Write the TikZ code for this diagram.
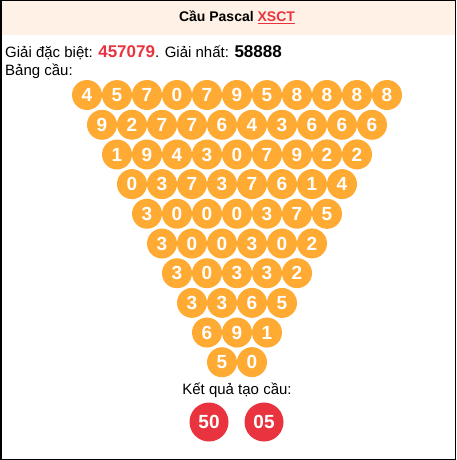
\documentclass[tikz,border=0pt]{standalone}
\usepackage{fontspec}
\setmainfont{Liberation Sans}
\usepackage{xcolor}
\usetikzlibrary{matrix}
\definecolor{ballorange}{HTML}{FFAA33}
\definecolor{ballred}{HTML}{E9333F}
\definecolor{headbg}{HTML}{FFF1E5}

\begin{document}
\begin{tikzpicture}[x=1pt,y=1pt,
ball/.style={circle, fill=ballorange, text=white, font=\bfseries\fontsize{19}{19}\selectfont, minimum size=30pt, inner sep=0pt},
array/.style={matrix of nodes, nodes={ball}, column sep=-15pt, row sep=-0.4pt, inner sep=0pt, outer sep=0pt},
result/.style={circle, fill=ballred, text=white, font=\bfseries\fontsize{19}{19}\selectfont, minimum size=39pt, inner sep=0pt},
label/.style={inner sep=0pt, font=\fontsize{15}{18}\selectfont}]
\useasboundingbox (0,0) rectangle (456,-460);
\fill[headbg] (0,0) rectangle (456,-35);
\draw[line width=1.5pt] (0.75,-0.75) rectangle (455.25,-459.25);
% header and prize line
\node[inner sep=0pt, font=\bfseries\fontsize{14}{16}\selectfont] (title) at (237,-17) {Cầu Pascal \textcolor{ballred}{\underline{XSCT}}};
\node[label, anchor=base west] (giai) at (5,-57) {Giải đặc biệt: {\color{ballred}\bfseries\fontsize{17}{18}\selectfont 457079}. Giải nhất: {\bfseries\fontsize{17}{18}\selectfont 58888}};
\node[label, anchor=base west] (bang) at (5,-75) {Bảng cầu:};
% pascal triangle
\matrix[array, anchor=north west] (cau) at (72,-80) {
4 & & 5 & & 7 & & 0 & & 7 & & 9 & & 5 & & 8 & & 8 & & 8 & & 8 \\
& 9 & & 2 & & 7 & & 7 & & 6 & & 4 & & 3 & & 6 & & 6 & & 6 \\
& & 1 & & 9 & & 4 & & 3 & & 0 & & 7 & & 9 & & 2 & & 2 \\
& & & 0 & & 3 & & 7 & & 3 & & 7 & & 6 & & 1 & & 4 \\
& & & & 3 & & 0 & & 0 & & 0 & & 3 & & 7 & & 5 \\
& & & & & 3 & & 0 & & 0 & & 3 & & 0 & & 2 \\
& & & & & & 3 & & 0 & & 3 & & 3 & & 2 \\
& & & & & & & 3 & & 3 & & 6 & & 5 \\
& & & & & & & & 6 & & 9 & & 1 \\
& & & & & & & & & 5 & & 0 \\};
% result
\node[label, anchor=base] (ketqua) at (237,-394) {Kết quả tạo cầu:};
\node[result] (kq1) at (209,-422) {50};
\node[result] (kq2) at (264,-422) {05};
\end{tikzpicture}
\end{document}
